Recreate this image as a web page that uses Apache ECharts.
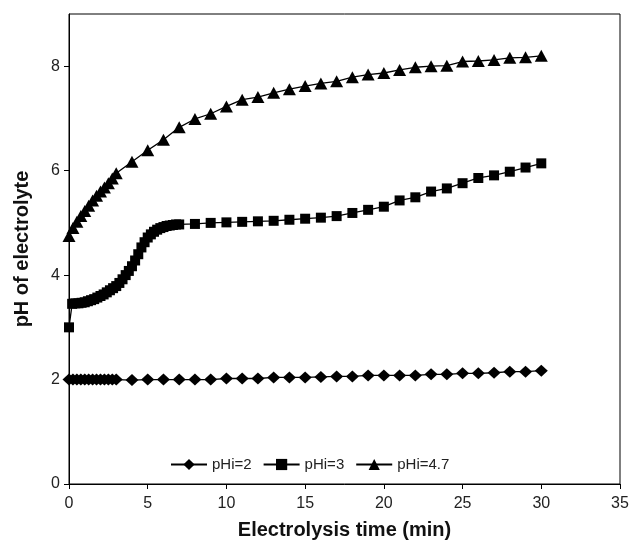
<!DOCTYPE html>
<html>
<head>
<meta charset="utf-8">
<script src="https://cdn.jsdelivr.net/npm/echarts@6.0.0/dist/echarts.min.js"></script>
<style>
  html, body { margin: 0; padding: 0; background: #fff; }
  #chart { width: 634px; height: 548px; }
</style>
</head>
<body>
<div id="chart"></div>
<script>
// electrolysis time (min) and pH
let legendNames = ['pHi=2', 'pHi=3', 'pHi=4.7'];
let xTicks = [0, 5, 10, 15, 20, 25, 30, 35];
let yTicks = [0, 2, 4, 6, 8];

let time2 = [0, 0.25, 0.5, 0.75, 1, 1.25, 1.5, 1.75, 2, 2.25, 2.5, 2.75, 3,
    4, 5, 6, 7, 8, 9, 10, 11, 12, 13, 14, 15, 16, 17, 18, 19, 20, 21, 22, 23, 24, 25, 26, 27, 28, 29, 30];
let ph2 = [2.0, 2.0, 2.0, 2.0, 2.0, 2.0, 2.0, 2.0, 2.0, 2.0, 2.0, 2.0, 2.0,
    1.99, 2.0, 2.0, 2.0, 2.0, 2.0, 2.02, 2.02, 2.02, 2.04, 2.04, 2.04, 2.05, 2.06, 2.06, 2.08, 2.08, 2.08, 2.08, 2.1, 2.1, 2.12, 2.12, 2.13, 2.15, 2.15, 2.17];

let time3 = [0, 0.2, 0.4, 0.6, 0.8, 1, 1.2, 1.4, 1.6, 1.8, 2, 2.2, 2.4, 2.6, 2.8, 3, 3.2, 3.4, 3.6, 3.8,
    4, 4.2, 4.4, 4.6, 4.8, 5, 5.2, 5.4, 5.6, 5.8, 6, 6.2, 6.4, 6.6, 6.8, 7,
    8, 9, 10, 11, 12, 13, 14, 15, 16, 17, 18, 19, 20, 21, 22, 23, 24, 25, 26, 27, 28, 29, 30];
let ph3 = [3.0, 3.45, 3.46, 3.46, 3.47, 3.48, 3.5, 3.52, 3.54, 3.57, 3.6, 3.63, 3.67, 3.71, 3.75, 3.79, 3.85, 3.92, 4.0, 4.08,
    4.17, 4.28, 4.4, 4.53, 4.63, 4.72, 4.78, 4.83, 4.87, 4.9, 4.92, 4.94, 4.95, 4.96, 4.97, 4.97,
    4.98, 5.0, 5.01, 5.02, 5.03, 5.04, 5.06, 5.08, 5.1, 5.13, 5.19, 5.25, 5.31, 5.43, 5.49, 5.6, 5.66, 5.76, 5.86, 5.91, 5.98, 6.06, 6.14];

let time47 = [0, 0.25, 0.5, 0.75, 1, 1.25, 1.5, 1.75, 2, 2.25, 2.5, 2.75, 3,
    4, 5, 6, 7, 8, 9, 10, 11, 12, 13, 14, 15, 16, 17, 18, 19, 20, 21, 22, 23, 24, 25, 26, 27, 28, 29, 30];
let ph47 = [4.75, 4.9, 5.02, 5.13, 5.23, 5.33, 5.43, 5.52, 5.6, 5.68, 5.76, 5.85, 5.95,
    6.17, 6.39, 6.59, 6.83, 6.99, 7.09, 7.23, 7.36, 7.41, 7.49, 7.56, 7.62, 7.67, 7.71, 7.79, 7.84, 7.87, 7.93, 7.98, 8.0, 8.01, 8.09, 8.1, 8.12, 8.16, 8.17, 8.2];

function pairs(xs, ys) {
    let out = [];
    xs.forEach((x, i) => { out.push([x, ys[i]]); });
    return out;
}

let font = 'Liberation Sans, Arial, sans-serif';
let myChart = echarts.init(document.getElementById('chart'));

let symbols = ['diamond', 'rect', 'triangle'];
let sizes = [[13, 12], [10, 10], [13, 12]];
let dataSets = [pairs(time2, ph2), pairs(time3, ph3), pairs(time47, ph47)];

myChart.setOption({
    animation: false,
    grid: {
        left: 69, top: 14, right: 14, bottom: 64,
        show: true, borderColor: '#000', borderWidth: 1
    },
    legend: {
        data: legendNames,
        left: 165, top: 452,
        itemWidth: 36, itemHeight: 14, itemGap: 11,
        textStyle: { fontFamily: font, fontSize: 15, color: '#222' }
    },
    xAxis: {
        type: 'value', min: 0, max: 35, interval: 5,
        name: 'Electrolysis time (min)', nameLocation: 'middle', nameGap: 36,
        nameTextStyle: { fontFamily: font, fontSize: 20, fontWeight: 'bold', color: '#111' },
        splitLine: { show: false },
        axisLine: { lineStyle: { color: '#000', width: 1 } },
        axisTick: { show: true, length: 5, lineStyle: { color: '#000' } },
        axisLabel: { fontFamily: font, fontSize: 16, color: '#222', margin: 12,
            customValues: xTicks }
    },
    yAxis: {
        type: 'value', min: 0, max: 9,
        name: 'pH of electrolyte', nameLocation: 'middle', nameGap: 37,
        nameTextStyle: { fontFamily: font, fontSize: 20, fontWeight: 'bold', color: '#111' },
        splitLine: { show: false },
        axisLine: { show: true, lineStyle: { color: '#000', width: 1 } },
        axisTick: { show: true, length: 5, lineStyle: { color: '#000' }, customValues: yTicks },
        axisLabel: { fontFamily: font, fontSize: 16, color: '#222', margin: 9,
            customValues: yTicks }
    },
    series: legendNames.map((name, i) => ({
        name: name,
        type: 'line',
        data: dataSets[i],
        symbol: symbols[i],
        symbolSize: sizes[i],
        showAllSymbol: true,
        itemStyle: { color: '#000', borderWidth: 0 },
        lineStyle: { color: '#000', width: 1.3 }
    }))
});
</script>
</body>
</html>
